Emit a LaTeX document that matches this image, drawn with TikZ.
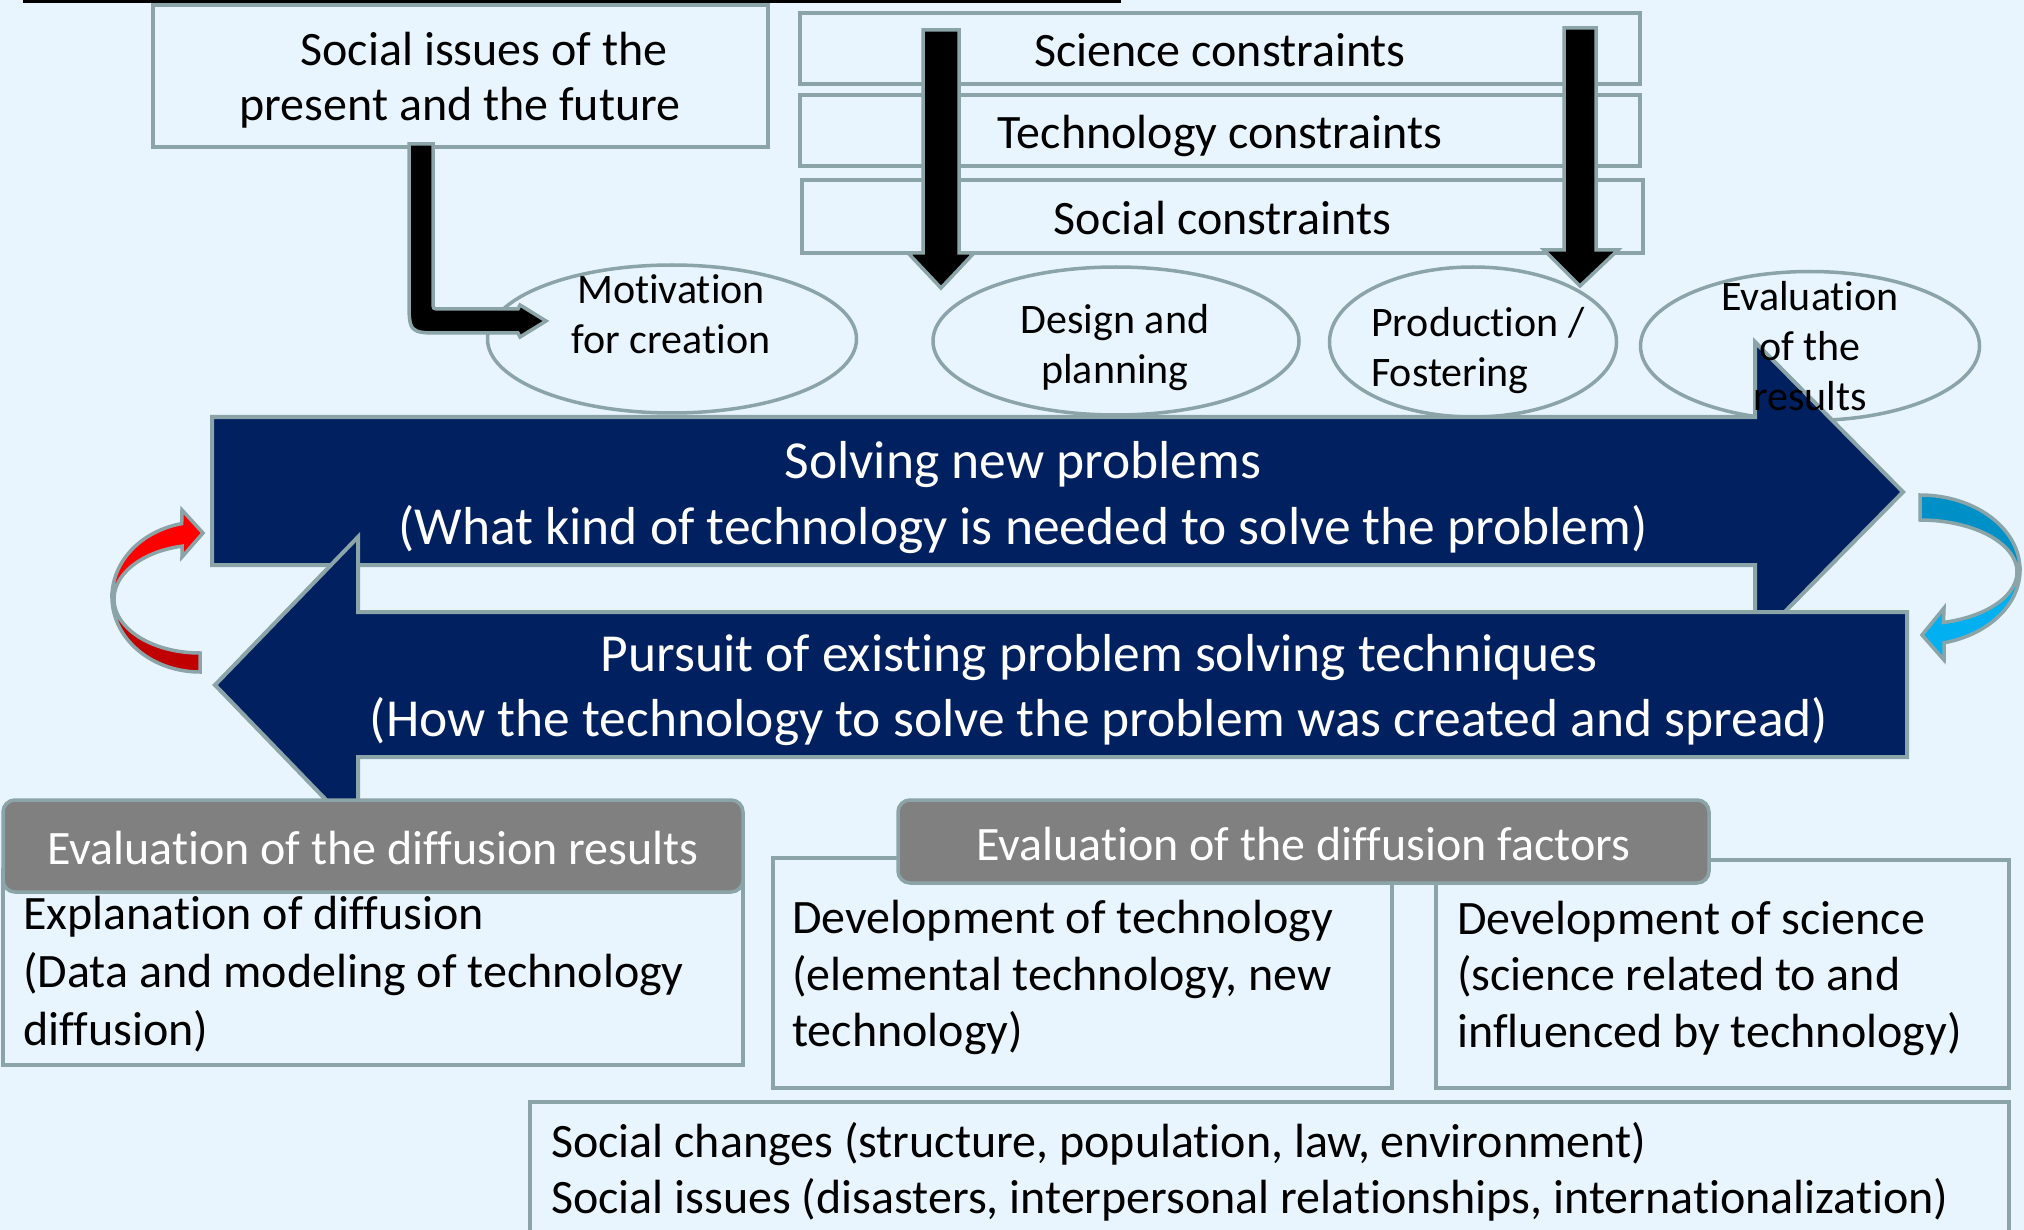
\documentclass[tikz,border=0pt]{standalone}
\usepackage{fontspec}
\setmainfont{Carlito}[Ligatures=CommonOff]
\usetikzlibrary{shapes.geometric}
\definecolor{bgc}{RGB}{232,245,254}
\definecolor{gline}{RGB}{139,164,168}
\definecolor{navyc}{RGB}{0,32,96}
\definecolor{hdrc}{RGB}{128,128,128}
\definecolor{redA}{RGB}{255,0,0}
\definecolor{redB}{RGB}{192,0,0}
\definecolor{bluA}{RGB}{0,144,200}
\definecolor{bluB}{RGB}{0,176,240}
\newcommand\fbig{\fontsize{48pt}{57pt}\selectfont}
\newcommand\fell{\fontsize{42pt}{50pt}\selectfont}
\begin{document}
\begin{tikzpicture}[x=1pt,y=-1pt,
  box/.style={draw=gline, line width=3.5pt, rectangle, inner sep=0, font=\fbig, text height=41pt, text depth=4pt},
  ell/.style={draw=gline, line width=3.5pt, ellipse, inner sep=0},
  hdr/.style={draw=gline, fill=hdrc, line width=3.5pt, rectangle, rounded corners=12pt, inner sep=0, text=white, font=\fbig, text height=41pt, text depth=4pt},
  outl/.style={draw=gline, line width=3.5pt, line join=miter},
  tb/.style={font=\fbig, inner sep=0, align=center},
  tl/.style={font=\fbig, inner sep=0, align=left, anchor=west},
  te/.style={font=\fell, inner sep=0, align=center}]
\fill[bgc] (0,0) rectangle (2024,1230);
\useasboundingbox (0,0) rectangle (2024,1230);
% top line
\draw[line width=3pt] (23,1.5) -- (1121,1.5);
% social issues box
\node[box, minimum width=615pt, minimum height=142pt] (bSoc) at (460.5,76) {};
\node[tb, font=\fontsize{48pt}{55pt}\selectfont] (tSoc) at (460,80.5) {\hspace*{48pt}Social issues of the\\present and the future};
% constraint boxes
\node[box, minimum width=840pt, minimum height=71pt] (bSci) at (1220,48.5) {Science constraints};
\node[box, minimum width=840pt, minimum height=71pt] (bTec) at (1220,130.5) {Technology constraints};
\node[box, minimum width=841pt, minimum height=73pt] (bSCo) at (1222.5,216.5) {Social constraints};
% ellipses
\node[ell, minimum width=369pt, minimum height=148pt] (eMot) at (672,339) {};
\node[ell, minimum width=366pt, minimum height=148pt] (eDes) at (1116,341) {};
\node[ell, minimum width=287pt, minimum height=150pt] (ePro) at (1473,342) {};
\node[ell, minimum width=339pt, minimum height=149pt] (eEva) at (1810,346) {};
\node[te] (tMot) at (671,314) {Motivation\\for creation};
\node[te] (tDes) at (1115,348) {Design and\\planning};
\node[te, align=left, anchor=west] (tPro) at (1371,351) {Production /\\Fostering};
% bent arrow
\filldraw[outl, fill=black] (409,144) -- (433,144) -- (433,302) .. controls (433,309) .. (440,309) -- (518,309) -- (520,305) -- (546,321) -- (520,337) -- (518,333) -- (442,333) .. controls (409,333) .. (409,298) -- cycle;
% down arrows
\filldraw[outl, fill=black] (923,30) -- (959,30) -- (959,253) -- (974,253) -- (941,288) -- (908,253) -- (923,253) -- cycle;
\filldraw[outl, fill=black] (1564,28) -- (1596,28) -- (1596,250) -- (1618,250) -- (1580,286) -- (1544,250) -- (1564,250) -- cycle;
% big arrows
\filldraw[outl, line width=4pt, fill=navyc] (212,417) -- (1755,417) -- (1755,342) -- (1903,492) -- (1755,642) -- (1755,565) -- (212,565) -- cycle;
\filldraw[outl, line width=4pt, fill=navyc] (1907,612) -- (358,612) -- (358,537) -- (215,685) -- (358,833) -- (358,757) -- (1907,757) -- cycle;
\node[tb, text=white, font=\fontsize{53.5pt}{66pt}\selectfont] (tNew) at (1023,498) {Solving new problems\\(What kind of technology is needed to solve the problem)};
\node[tb, text=white, font=\fontsize{53.5pt}{65pt}\selectfont] (tOld) at (1099,690) {Pursuit of existing problem solving techniques\\(How the technology to solve the problem was created and spread)};
\node[te] (tEva) at (1810,346) {Evaluation\\of the\\results};
% curved arrows
\filldraw[outl, fill=redB] plot[domain=180:270, samples=40] ({200+88*cos(\x)},{597-75*sin(\x)}) -- plot[domain=270:180, samples=40] ({200+86*cos(\x)},{599-54*sin(\x)}) -- cycle;
\filldraw[outl, fill=redA] plot[domain=180:102, samples=40] ({200+88*cos(\x)},{597-75*sin(\x)}) -- (182,510) -- (203,533) -- (182,557) -- plot[domain=102:180, samples=40] ({200+86*cos(\x)},{599-54*sin(\x)}) -- cycle;
\filldraw[outl, fill=bluA] plot[domain=90:0, samples=40] ({1920+100*cos(\x)},{570-75*sin(\x)}) -- plot[domain=0:90, samples=40] ({1920+97*cos(\x)},{572-52*sin(\x)}) -- cycle;
\filldraw[outl, fill=bluB] plot[domain=0:-76, samples=40] ({1920+100*cos(\x)},{570-75*sin(\x)}) -- (1944,660) -- (1922,635) -- (1944,608) -- plot[domain=-76:0, samples=40] ({1920+97*cos(\x)},{572-52*sin(\x)}) -- cycle;
% bottom boxes
\node[box, minimum width=740pt, minimum height=195pt] (bExp) at (373,967.5) {};
\node[tl, font=\fontsize{48pt}{58pt}\selectfont] (tExp) at (23,974) {Explanation of diffusion\\(Data and modeling of technology\\diffusion)};
\node[box, minimum width=619pt, minimum height=230pt] (bTech) at (1082.5,973) {};
\node[tl, font=\fontsize{48pt}{56.5pt}\selectfont] (tTech) at (792,977.5) {Development of technology\\(elemental technology, new\\technology)};
\node[box, minimum width=573pt, minimum height=228pt] (bSci2) at (1722.5,974) {};
\node[tl, font=\fontsize{48pt}{56.5pt}\selectfont] (tSci2) at (1457,978) {Development of science\\(science related to and\\influenced by technology)};
\node[box, minimum width=1479pt, minimum height=138pt] (bChg) at (1269.5,1171) {};
\node[tl, font=\fontsize{48pt}{56pt}\selectfont] (tChg) at (551,1171.5) {Social changes (structure, population, law, environment)\\Social issues (disasters, interpersonal relationships, internationalization)};
% headers
\node[hdr, minimum width=740pt, minimum height=92pt] (hRes) at (373,846) {Evaluation of the diffusion results};
\node[hdr, minimum width=811pt, minimum height=83pt] (hFac) at (1303.5,841.5) {Evaluation of the diffusion factors};
\end{tikzpicture}
\end{document}
